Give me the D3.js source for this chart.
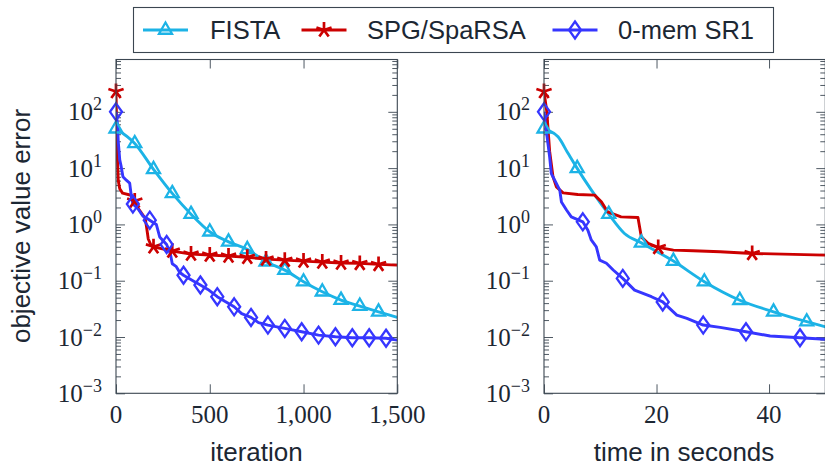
<!DOCTYPE html>
<html><head><meta charset="utf-8">
<script src="https://cdn.jsdelivr.net/npm/d3@7"></script>
<style>body{margin:0;background:#fff}svg{display:block}</style>
</head><body><svg id="c" width="825" height="467"></svg>
<script>
// ---------- data ----------
const seriesNames = ["FISTA", "SPG/SpaRSA", "0-mem SR1"];
const seriesColors = ["#1cb3e6", "#cc0000", "#3636ff"];
const seriesMarkers = ["triangle", "star", "diamond"];

const yTickExponents = [-3, -2, -1, 0, 1, 2];
const iterTicks = [0, 500, 1000, 1500];
const timeTicks = [0, 20, 40];

// left panel: objective error vs iteration
const fistaIterX = [0,100,200,300,400,500,600,700,800,900,1000,1100,1200,1300,1400,1500];
const fistaIterY = [50,27.4,9.5,3.55,1.52,0.74,0.49,0.36,0.217,0.154,0.096,0.0636,0.0453,0.0355,0.028,0.0223];
const fistaIterMarks = [0,100,200,300,400,500,600,700,800,900,1000,1100,1200,1300,1400];

const spgIterX = [0,6,12,20,35,80,100,115,135,155,163,172,185,200,300,400,500,600,700,800,900,1000,1100,1200,1300,1400,1500];
const spgIterY = [230,20,6,4.3,3.6,3.3,2.6,2.0,1.6,1.3,0.9,0.55,0.44,0.40,0.336,0.297,0.285,0.274,0.26,0.242,0.232,0.223,0.214,0.206,0.203,0.195,0.189];
const spgIterMarks = [0,100,200,300,400,500,600,700,800,900,1000,1100,1200,1300,1400];

const sr1IterX = [0,8,12,20,28,37,55,73,82,90,117,144,162,180,215,233,270,290,300,320,340,360,410,450,490,540,580,630,670,720,760,810,900,990,1080,1170,1260,1350,1440,1500];
const sr1IterY = [100,60,30,14,10.5,7,6.1,5.4,3.1,2.3,1.9,1.4,1.3,1.19,1.0,0.6,0.44,0.3,0.2,0.18,0.14,0.125,0.1,0.084,0.07,0.052,0.043,0.0344,0.026,0.0223,0.018,0.0163,0.0142,0.0124,0.0108,0.0101,0.0097,0.0097,0.0095,0.0088];
const sr1IterMarks = [0,90,180,270,360,450,540,630,720,810,900,990,1080,1170,1260,1350,1440];

// right panel: objective error vs time in seconds
const fistaTimeX = [0,0.7,2.5,4.27,5.9,8.4,11.5,14.3,17.3,23,28.5,34.8,40.8,46.7,50];
const fistaTimeY = [50,47,36,18.3,9.9,4.1,1.52,0.69,0.47,0.223,0.096,0.045,0.028,0.0187,0.0152];
const fistaTimeMarks = [0,5.9,11.5,17.3,23,28.5,34.8,40.8,46.7];

const spgTimeX = [0,0.5,1,1.6,2.2,3.4,6,9,10.2,11.3,13.7,16.7,17.3,18.5,20.3,23,26.5,31.3,37,50];
const spgTimeY = [230,100,20,7,4.65,3.64,3.4,3.31,2.52,1.67,1.36,1.33,0.6,0.46,0.39,0.35,0.34,0.326,0.305,0.285];
const spgTimeMarks = [0,20.3,37];

const sr1TimeX = [0,0.4,1.0,1.3,1.9,2.8,3.1,4.0,4.85,6.9,7.8,8.4,9.3,9.9,11.1,12.3,14.0,16.1,19.1,21.1,23.6,25.4,28.3,31.3,35.9,40.2,45.5,50];
const sr1TimeY = [100,47,15.9,8,6.1,4.06,2.5,1.8,1.36,1.11,0.79,0.53,0.4,0.232,0.204,0.155,0.11,0.068,0.052,0.042,0.0245,0.0214,0.0163,0.0148,0.0124,0.0104,0.0097,0.0091];
const sr1TimeMarks = [0,6.9,14.0,21.1,28.3,35.9,45.5];

// ---------- drawing ----------
const svg = d3.select("#c");
const ink = "#1c2733";
const frameCol = "#3b4651";
const serif = "'Liberation Serif','DejaVu Serif',serif";
const sans = "'Liberation Sans',Arial,Helvetica,sans-serif";

const plotTop = 59.5, plotBottom = 393.3;
const y = d3.scaleLog().domain([1e-3, 850]).range([plotBottom, plotTop]);

function markerPath(type) {
  const p = d3.path();
  if (type === "triangle") {
    const r = 7.5;
    p.moveTo(0, -r); p.lineTo(r*0.866, r/2); p.lineTo(-r*0.866, r/2); p.closePath();
  } else if (type === "diamond") {
    p.moveTo(0, -8.5); p.lineTo(6, 0); p.lineTo(0, 8.5); p.lineTo(-6, 0); p.closePath();
  } else {
    const r = 8;
    for (let k = 0; k < 5; k++) {
      const a = (-90 + 72*k) * Math.PI/180;
      p.moveTo(0, 0); p.lineTo(r*Math.cos(a), r*Math.sin(a));
    }
  }
  return p.toString();
}

function drawPanel(x0, x1, domainMax, xTicks, series, clipId) {
  const x = d3.scaleLinear().domain([0, domainMax]).range([x0, x1]);
  const g = svg.append("g");

  svg.append("clipPath").attr("id", clipId)
    .append("rect").attr("x", x0).attr("y", plotTop).attr("width", x1 - x0).attr("height", plotBottom - plotTop);

  const minor = [];
  for (let e = -3; e <= 2; e++) for (let m = 2; m <= 9; m++) {
    const v = m * Math.pow(10, e);
    if (v <= y.domain()[1]) minor.push(v);
  }
  const major = yTickExponents.map(e => Math.pow(10, e));

  const addAxis = (axis, tr) => {
    const a = g.append("g").attr("transform", tr).call(axis);
    a.select(".domain").remove();
    a.selectAll("line").attr("stroke", frameCol).attr("stroke-width", 0.9);
    a.selectAll("text").remove();
  };
  addAxis(d3.axisLeft(y).tickValues(minor).tickSizeInner(-5).tickSizeOuter(0), `translate(${x0},0)`);
  addAxis(d3.axisRight(y).tickValues(minor).tickSizeInner(-5).tickSizeOuter(0), `translate(${x1},0)`);
  addAxis(d3.axisLeft(y).tickValues(major).tickSizeInner(-9).tickSizeOuter(0), `translate(${x0},0)`);
  addAxis(d3.axisRight(y).tickValues(major).tickSizeInner(-9).tickSizeOuter(0), `translate(${x1},0)`);
  addAxis(d3.axisBottom(x).tickValues(xTicks).tickSizeInner(-9).tickSizeOuter(0), `translate(0,${plotBottom})`);
  addAxis(d3.axisTop(x).tickValues(xTicks).tickSizeInner(-9).tickSizeOuter(0), `translate(0,${plotTop})`);

  yTickExponents.forEach(e => {
    const t = g.append("text")
      .attr("x", x0 - 14).attr("y", y(Math.pow(10, e)) + 8.5)
      .attr("text-anchor", "end").attr("fill", ink)
      .style("font-family", serif).style("font-size", "25px");
    t.append("tspan").text("10");
    t.append("tspan").attr("dy", -10).style("font-size", "18px")
      .text(e < 0 ? "\u2212" + Math.abs(e) : String(e));
  });
  g.selectAll(null).data(xTicks).enter().append("text")
    .attr("x", d => x(d)).attr("y", 423)
    .attr("text-anchor", "middle").attr("fill", ink)
    .style("font-family", serif).style("font-size", "25px")
    .text(d3.format(","));

  const line = d3.line().x(d => x(d[0])).y(d => y(d[1]));
  const plot = g.append("g").attr("clip-path", `url(#${clipId})`);
  series.forEach((s, i) => {
    const pts = s.x.map((v, j) => [v, s.y[j]]);
    plot.append("path").datum(pts)
      .attr("d", line.curve(i === 0 ? d3.curveMonotoneX : d3.curveLinear))
      .attr("fill", "none").attr("stroke", seriesColors[i])
      .attr("stroke-width", 2.9).attr("stroke-linejoin", "round");
    const mk = s.m.map(mx => pts.find(p => p[0] === mx));
    g.selectAll(null).data(mk).enter().append("path")
      .attr("transform", d => `translate(${x(d[0])},${y(d[1])})`)
      .attr("d", markerPath(seriesMarkers[i]))
      .attr("fill", "none").attr("stroke", seriesColors[i])
      .attr("stroke-width", i === 1 ? 2.7 : 2.3).attr("stroke-linejoin", "miter");
  });

  g.append("rect").attr("x", x0).attr("y", plotTop)
    .attr("width", x1 - x0).attr("height", plotBottom - plotTop)
    .attr("fill", "none").attr("stroke", frameCol).attr("stroke-width", 1.1);
  return x;
}

drawPanel(116, 397.3, 1500, iterTicks, [
  {x: fistaIterX, y: fistaIterY, m: fistaIterMarks},
  {x: spgIterX, y: spgIterY, m: spgIterMarks},
  {x: sr1IterX, y: sr1IterY, m: sr1IterMarks}
], "clipL");

drawPanel(544, 825.3, 50, timeTicks, [
  {x: fistaTimeX, y: fistaTimeY, m: fistaTimeMarks},
  {x: spgTimeX, y: spgTimeY, m: spgTimeMarks},
  {x: sr1TimeX, y: sr1TimeY, m: sr1TimeMarks}
], "clipR");

svg.append("text").attr("x", 256.5).attr("y", 461).attr("text-anchor", "middle")
  .attr("fill", ink).style("font-family", sans).style("font-size", "26px").text("iteration");
svg.append("text").attr("x", 684).attr("y", 461).attr("text-anchor", "middle")
  .attr("fill", ink).style("font-family", sans).style("font-size", "26px").text("time in seconds");
svg.append("text").attr("transform", "translate(30,226) rotate(-90)").attr("text-anchor", "middle")
  .attr("fill", ink).style("font-family", sans).style("font-size", "26px").text("objective value error");

const legend = svg.append("g");
legend.append("rect").attr("x", 133.5).attr("y", 7.5).attr("width", 640).attr("height", 45)
  .attr("fill", "#fff").attr("stroke", frameCol).attr("stroke-width", 1.1);
const legendSampleX = [143, 301.5, 552.5];
const legendTextX = [210, 367, 618];
seriesNames.forEach((name, i) => {
  const cx = legendSampleX[i] + 22.5;
  legend.append("line").attr("x1", legendSampleX[i]).attr("x2", legendSampleX[i] + 45)
    .attr("y1", 30).attr("y2", 30).attr("stroke", seriesColors[i]).attr("stroke-width", 2.8);
  legend.append("path").attr("transform", `translate(${cx},30)`)
    .attr("d", markerPath(seriesMarkers[i])).attr("fill", "none")
    .attr("stroke", seriesColors[i]).attr("stroke-width", i === 1 ? 2.7 : 2.3);
  legend.append("text").attr("x", legendTextX[i]).attr("y", 38.5)
    .attr("fill", ink).style("font-family", sans).style("font-size", "25.5px").text(name);
});
</script></body></html>
